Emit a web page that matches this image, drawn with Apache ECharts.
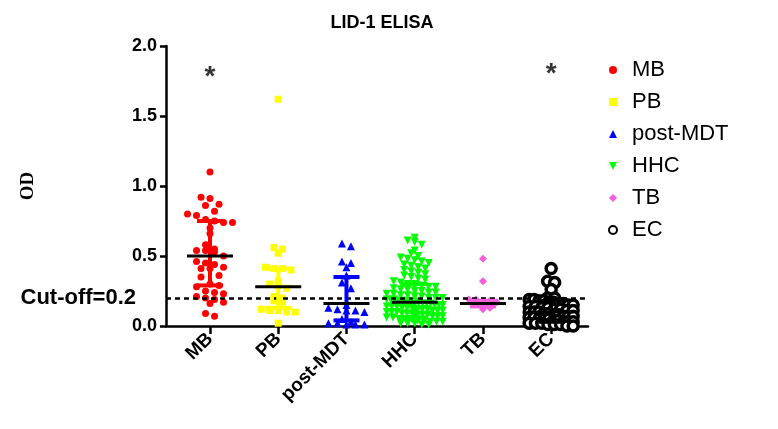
<html>
<head>
<meta charset="utf-8">
<script type="text/javascript" src="https://cdn.jsdelivr.net/npm/echarts@6/dist/echarts.min.js"></script>
</head>
<body style="margin: 0; padding: 0;">
<div id="myChart" style="width: 778px; height: 429px;"></div>
<script type="text/javascript">
var groups = ['MB', 'PB', 'post-MDT', 'HHC', 'TB', 'EC'];
var yTicks = [0, 0.5, 1.0, 1.5, 2.0];
var cutOff = 0.2;

var mbValues = [1.10, 0.92, 0.91, 0.87, 0.86, 0.82, 0.80, 0.79, 0.76, 0.75, 0.74, 0.74, 0.70, 0.66, 0.58,
	0.55, 0.54, 0.54, 0.53, 0.50, 0.46, 0.45, 0.44, 0.42, 0.41, 0.41, 0.36, 0.35, 0.30, 0.29,
	0.28, 0.25, 0.24, 0.23, 0.21, 0.20, 0.19, 0.17, 0.16, 0.09, 0.07];
var pbValues = [1.62, 0.56, 0.55, 0.52, 0.42, 0.41, 0.41, 0.40, 0.32, 0.30, 0.29, 0.27, 0.21, 0.20,
	0.18, 0.17, 0.12, 0.11, 0.11, 0.10, 0.10, 0.02];
var postMdtValues = [0.59, 0.57, 0.46, 0.45, 0.42, 0.36, 0.31, 0.27, 0.15, 0.13, 0.12, 0.11, 0.11,
	0.10, 0.05, 0.03, 0.02, 0.02, 0.01, 0.01, 0.01];
var hhcValues = [0.63, 0.61, 0.60, 0.58, 0.54, 0.52, 0.50, 0.49, 0.48, 0.47, 0.46, 0.45, 0.44, 0.43,
	0.42, 0.41, 0.40, 0.39, 0.38, 0.37, 0.36, 0.35, 0.34, 0.33, 0.32, 0.31, 0.30, 0.30, 0.29, 0.28,
	0.28, 0.27, 0.26, 0.26, 0.25, 0.25, 0.24, 0.24, 0.23, 0.23, 0.22, 0.22, 0.21, 0.21, 0.20, 0.20,
	0.20, 0.19, 0.19, 0.19, 0.18, 0.18, 0.18, 0.17, 0.17, 0.17, 0.16, 0.16, 0.16, 0.15, 0.15, 0.15,
	0.14, 0.14, 0.14, 0.13, 0.13, 0.13, 0.12, 0.12, 0.12, 0.11, 0.11, 0.11, 0.10, 0.10, 0.10, 0.09,
	0.09, 0.09, 0.08, 0.08, 0.08, 0.07, 0.07, 0.07, 0.06, 0.06, 0.05, 0.05, 0.05, 0.04, 0.04, 0.03,
	0.03, 0.03, 0.02, 0.02, 0.02, 0.01, 0.01];
var tbValues = [0.48, 0.32, 0.19, 0.19, 0.18, 0.18, 0.17, 0.16, 0.15, 0.13, 0.12];
var ecValues = [0.41, 0.32, 0.31, 0.26, 0.20, 0.20, 0.19, 0.19, 0.18, 0.18, 0.17, 0.17, 0.16, 0.16,
	0.15, 0.15, 0.14, 0.14, 0.13, 0.13, 0.12, 0.12, 0.11, 0.11, 0.10, 0.10, 0.10, 0.09, 0.09, 0.08,
	0.08, 0.07, 0.07, 0.07, 0.06, 0.06, 0.05, 0.05, 0.05, 0.04, 0.04, 0.03, 0.03, 0.03, 0.02, 0.02,
	0.02, 0.01, 0.01, 0.01, 0.00, 0.00];

// centre line and error bar ends
var centers = [0.50, 0.28, 0.16, 0.17, 0.16, 0.10];
var barLow = [0.29, 0.13, 0.04, 0.06, 0.14, 0.03];
var barHigh = [0.75, 0.41, 0.35, 0.30, 0.18, 0.18];
var starHeights = [1.78, 0, 0, 0, 0, 1.80];
var starShown = [true, false, false, false, false, true];

var allValues = [mbValues, pbValues, postMdtValues, hhcValues, tbValues, ecValues];
var colors = ['#ff0000', '#ffff00', '#0000ff', '#00ff00', '#f25fdc', '#000000'];
var symbols = ['circle', 'rect', 'triangle', 'path://M0,0 L10,0 L5,10 Z', 'diamond', 'circle'];
var sizes = [7, 7, 8, 8, 8, 10];
// swarm layout: bin height, step, half width (px)
var swarmOpts = [[9, 9, 26], [8, 8.5, 22], [8, 9, 26], [6, 7, 28], [5, 7, 18], [6, 7, 22]];

var xMin = -0.645, xMax = 5.54;
var pxPerX = 422 / (xMax - xMin), pxPerY = 140;

// prism style: points of similar value sit in one row, spread sideways
function swarm(vals, idx, opt) {
	var bins = {}, keys = [];
	for (var i = 0; i < vals.length; i++) {
		var b = Math.round(vals[i] * pxPerY / opt[0]);
		if (!bins[b]) { bins[b] = []; keys.push(b); }
		bins[b].push(vals[i]);
	}
	var out = [];
	for (var k = 0; k < keys.length; k++) {
		var arr = bins[keys[k]], n = arr.length;
		var step = n > 1 ? Math.min(opt[1], 2 * opt[2] / (n - 1)) : 0;
		for (var j = 0; j < n; j++) {
			out.push([idx + (j - (n - 1) / 2) * step / pxPerX, arr[j]]);
		}
	}
	return out;
}

var series = [];
for (var i = 0; i < groups.length; i++) {
	var s = {
		name: groups[i], type: 'scatter', data: swarm(allValues[i], i, swarmOpts[i]),
		symbol: symbols[i], symbolSize: sizes[i], z: 2,
		itemStyle: { color: colors[i], opacity: 1 }
	};
	if (i == 5) {
		s.itemStyle = { color: '#ffffff', borderColor: '#000000', borderWidth: 3.5, opacity: 1 };
	}
	series.push(s);
}

var barData = [];
for (var i = 0; i < groups.length; i++) barData.push([i, centers[i], barLow[i], barHigh[i]]);
series.push({
	type: 'custom', z: 5, silent: true, data: barData,
	renderItem: function (params, api) {
		var i = api.value(0);
		var c = api.coord([i, api.value(1)]);
		var lo = api.coord([i, api.value(2)]);
		var hi = api.coord([i, api.value(3)]);
		var col = colors[i];
		return {
			type: 'group', children: [
				{ type: 'line', shape: { x1: lo[0], y1: lo[1], x2: hi[0], y2: hi[1] }, style: { stroke: col, lineWidth: 4 } },
				{ type: 'line', shape: { x1: lo[0] - 13, y1: lo[1], x2: lo[0] + 13, y2: lo[1] }, style: { stroke: col, lineWidth: 4 } },
				{ type: 'line', shape: { x1: hi[0] - 13, y1: hi[1], x2: hi[0] + 13, y2: hi[1] }, style: { stroke: col, lineWidth: 4 } },
				{ type: 'line', shape: { x1: c[0] - 23, y1: c[1], x2: c[0] + 23, y2: c[1] }, style: { stroke: '#000', lineWidth: 3 } }
			]
		};
	},
	markLine: {
		silent: true, symbol: 'none', animation: false,
		lineStyle: { color: '#000', type: [5, 4], width: 2.5 },
		label: { position: 'start', formatter: 'Cut-off=0.2', color: '#000', fontWeight: 'bold', fontSize: 22, fontFamily: 'Arial', distance: 30 },
		data: [{ yAxis: cutOff }]
	}
});

var starData = [];
for (var i = 0; i < groups.length; i++) if (starShown[i]) starData.push([i, starHeights[i]]);
series.push({
	type: 'scatter', silent: true, symbolSize: 0, itemStyle: { color: 'transparent' }, data: starData,
	label: { show: true, position: 'inside', formatter: '*', color: '#000', fontSize: 28, fontWeight: 'bold', fontFamily: 'Arial', textBorderWidth: 0 }
});

var option = {
	animation: false,
	title: {
		text: 'LID-1 ELISA', left: 377, top: 9, textAlign: 'center',
		textStyle: { fontSize: 18, fontWeight: 'bold', fontFamily: 'Arial', color: '#000' }
	},
	legend: {
		data: groups, orient: 'vertical', left: 603, top: 54, itemGap: 10,
		itemWidth: 8, itemHeight: 8,
		textStyle: { fontSize: 22, fontFamily: 'Arial', color: '#000', padding: [0, 0, 0, 10] }
	},
	grid: { left: 166, top: 46, width: 422, height: 280 },
	xAxis: {
		type: 'value', min: xMin, max: xMax, splitLine: { show: false },
		axisLine: { onZero: false, lineStyle: { color: '#000', width: 2.5 } },
		axisTick: { customValues: [0, 1, 2, 3, 4, 5], length: 8, lineStyle: { color: '#000', width: 2.5 } },
		axisLabel: {
			customValues: [0, 1, 2, 3, 4, 5], rotate: 45, margin: 10,
			formatter: function (v) { return groups[Math.round(v)]; },
			fontSize: 19, fontWeight: 'bold', fontFamily: 'Arial', color: '#000'
		}
	},
	yAxis: {
		type: 'value', min: yTicks[0], max: yTicks[yTicks.length - 1], interval: 0.5,
		splitLine: { show: false },
		name: 'OD', nameLocation: 'middle', nameGap: 128, nameRotate: 90,
		nameTextStyle: { fontSize: 19, fontWeight: 'bold', fontFamily: 'Liberation Serif', color: '#000' },
		axisLine: { show: true, onZero: false, lineStyle: { color: '#000', width: 2.5 } },
		axisTick: { show: true, length: 6, lineStyle: { color: '#000', width: 2.5 } },
		axisLabel: {
			margin: 9, formatter: function (v) { return v.toFixed(1); },
			fontSize: 18, fontWeight: 'bold', fontFamily: 'Arial', color: '#000'
		}
	},
	series: series
};
echarts.init(document.getElementById('myChart')).setOption(option);
</script>
</body>
</html>
